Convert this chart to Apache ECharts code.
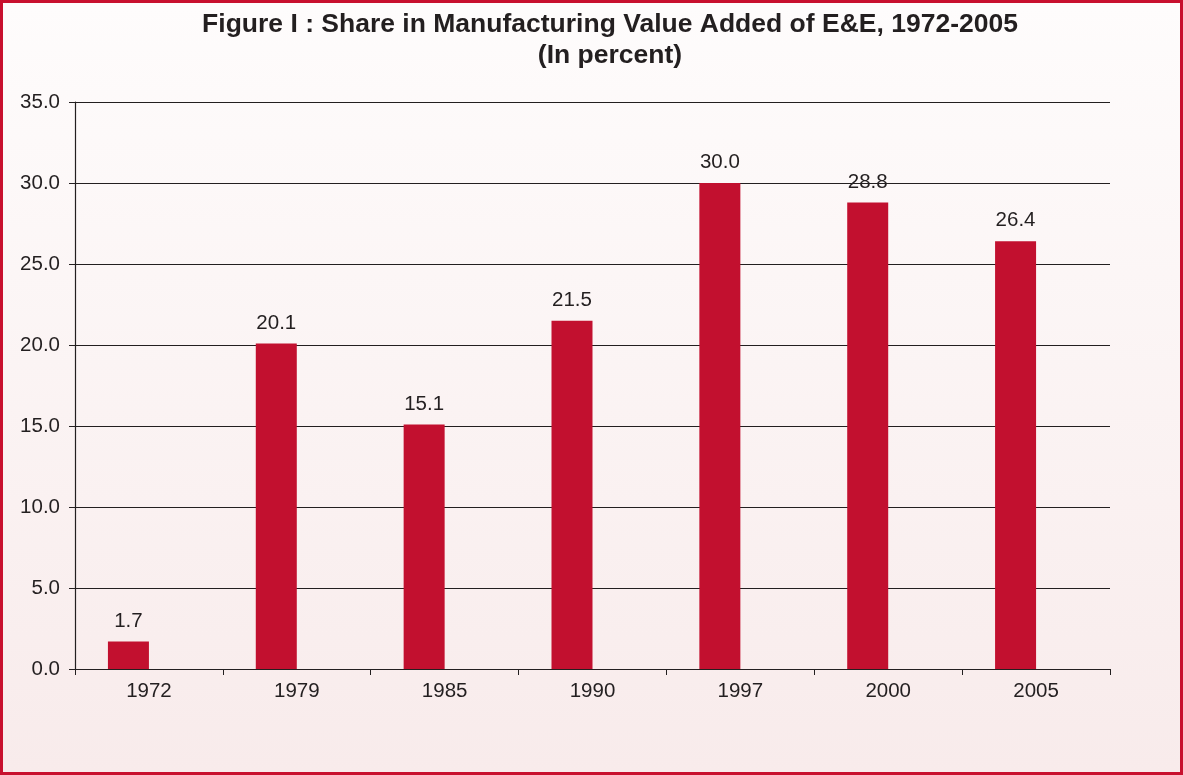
<!DOCTYPE html>
<html>
<head>
<meta charset="utf-8">
<script src="https://cdn.jsdelivr.net/npm/echarts@6/dist/echarts.min.js"></script>
<style>
  html, body { margin: 0; padding: 0; }
  #chart {
    width: 1183px; height: 775px; box-sizing: border-box;
    border: 3px solid #c8102e;
  }
</style>
</head>
<body>
<div id="chart"></div>
<script>
// E&E share of manufacturing value added (percent)
const years = ['1972', '1979', '1985', '1990', '1997', '2000', '2005'];
const shareValues = [1.7, 20.1, 15.1, 21.5, 30.0, 28.8, 26.4];
const titleLines = ['Figure I : Share in Manufacturing Value Added of E&E, 1972-2005', '(In percent)'];

const chart = echarts.init(document.getElementById('chart'), null, { renderer: 'canvas' });
const ink = '#231f20';
const font = '"Liberation Sans", Arial, sans-serif';

chart.setOption({
  animation: false,
  backgroundColor: {
    type: 'linear', x: 0, y: 0, x2: 0, y2: 1,
    colorStops: [
      { offset: 0, color: '#fefcfc' },
      { offset: 1, color: '#f8ebeb' }
    ]
  },
  title: {
    text: titleLines.join('\n'),
    left: 607, top: 6, padding: 0, textAlign: 'center',
    textStyle: {
      fontFamily: font, fontWeight: 'bold', fontSize: 26.5,
      color: ink, lineHeight: 31
    }
  },
  grid: { left: 72, right: 70, top: 99, bottom: 103, containLabel: false },
  xAxis: {
    type: 'category',
    data: years,
    boundaryGap: true,
    axisLine: { lineStyle: { color: ink, width: 1.2 } },
    axisTick: { show: true, length: 6, alignWithLabel: false, lineStyle: { color: ink } },
    axisLabel: { color: ink, fontFamily: font, fontSize: 20.5, margin: 12 }
  },
  yAxis: {
    type: 'value',
    min: 0, max: 35, interval: 5,
    axisLine: { show: true, lineStyle: { color: ink, width: 1.2 } },
    axisTick: { show: true, length: 6, lineStyle: { color: ink } },
    axisLabel: {
      color: ink, fontFamily: font, fontSize: 20.5, margin: 15,
      formatter: v => v.toFixed(1)
    },
    splitLine: { lineStyle: { color: ink, width: 1.2 } }
  },
  series: [
    {
      name: 'Share',
      type: 'bar',
      data: shareValues,
      barWidth: 41,
      barGap: '0%',
      itemStyle: { color: '#c2102f' },
      label: {
        show: true, position: 'top', distance: 10,
        color: ink, fontFamily: font, fontSize: 20.5,
        formatter: p => p.value.toFixed(1)
      }
    },
    {
      name: 'Spacer',
      type: 'bar',
      data: [],
      barWidth: 41,
      barGap: '0%'
    }
  ]
});
</script>
</body>
</html>
